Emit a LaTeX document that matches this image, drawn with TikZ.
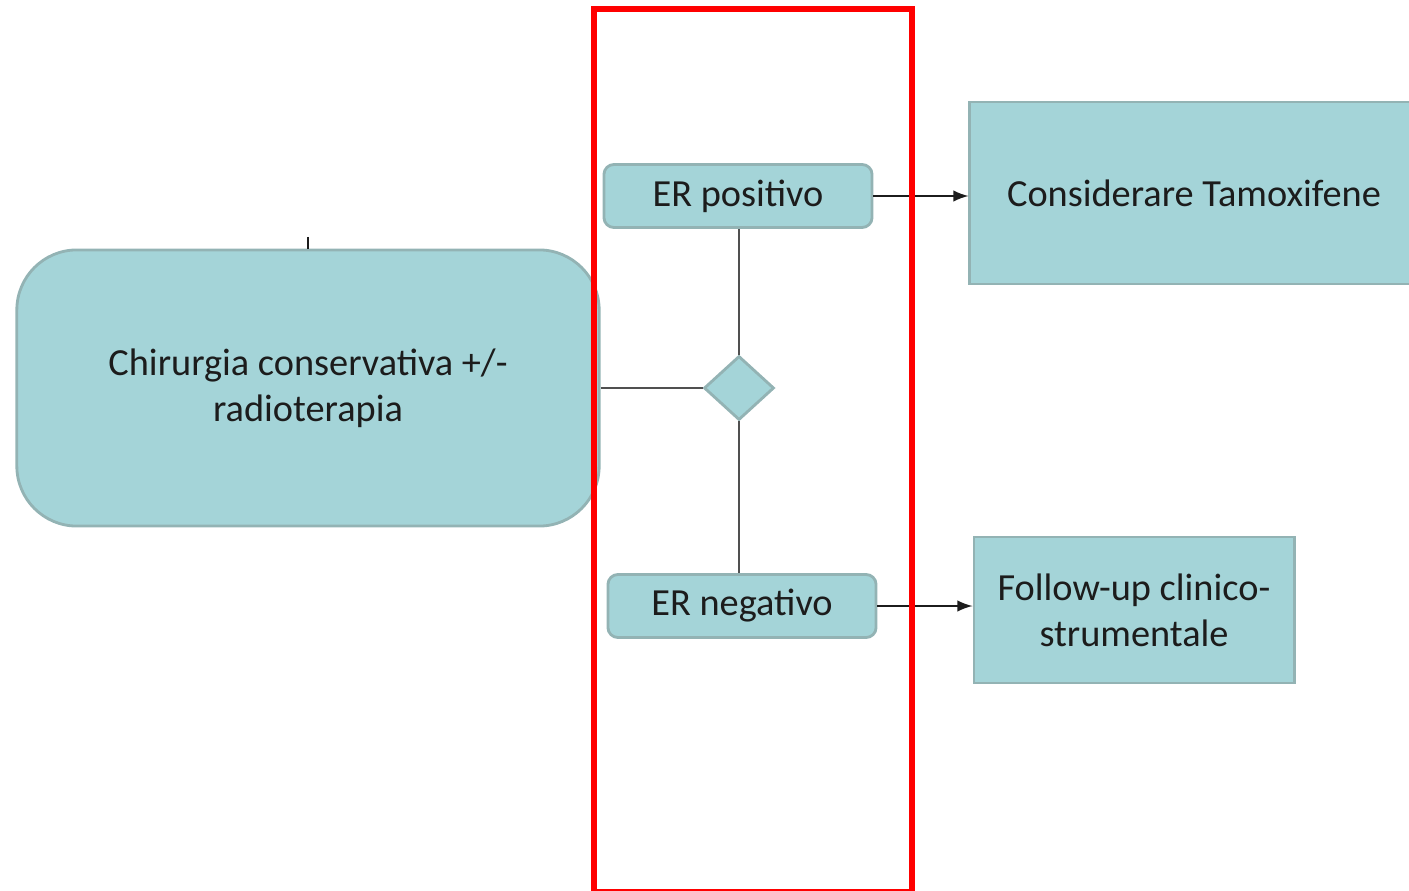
\documentclass[tikz,border=0pt]{standalone}
\usepackage{fontspec}
\setmainfont{Carlito}
\usepackage{xcolor}
\usetikzlibrary{shapes.geometric, arrows}

\definecolor{boxfill}{HTML}{A4D4D8}
\definecolor{boxline}{HTML}{93B3B4}
\definecolor{txt}{HTML}{1C1C1C}
\definecolor{conn}{HTML}{505050}

\tikzset{
  boxstyle/.style={draw=boxline, fill=boxfill, line width=0.8pt, text=txt, align=center, font=\fontsize{10.9}{13.1}\selectfont},
  pill/.style={boxstyle, rounded corners=0.1cm, minimum width=2.68cm, minimum height=0.63cm},
  choice/.style={draw=boxline, fill=boxfill, line width=0.8pt, diamond, minimum width=0.70cm, minimum height=0.64cm, inner sep=0pt},
  link/.style={draw=conn, line width=0.6pt},
  arr/.style={draw=txt, line width=0.5pt, -latex}
}

\begin{document}
\begin{tikzpicture}[x=0.01cm, y=-0.01cm]
        \useasboundingbox (0,0) rectangle (1409,891);

        \node[boxstyle, rounded corners=0.6cm, minimum width=5.82cm, minimum height=2.76cm] (chir) at (308,388) {Chirurgia conservativa +/-\\radioterapia};
        \node[pill] (erpos) at (738,196) {ER positivo};
        \node[pill] (erneg) at (742,606) {ER negativo};
        \node[choice] (dec) at (739,388) {};
        \node[boxstyle, minimum width=4.48cm, minimum height=1.82cm] (tamox) at (1194,193) {Considerare Tamoxifene};
        \node[boxstyle, minimum width=3.20cm, minimum height=1.46cm] (follow) at (1134,610) {Follow-up clinico-\\strumentale};

        \coordinate (tick) at (308,237);
        \draw[txt, line width=0.5pt] (tick) -- (chir.north);

        \draw[link] (chir.east) -- (dec.west);
        \draw[link] (dec.north) -- (dec.north |- erpos.south);
        \draw[link] (dec.south) -- (dec.south |- erneg.north);

        \draw[arr] (erpos.east) -- (erpos.east -| tamox.west);
        \draw[arr] (erneg.east) -- (erneg.east -| follow.west);

        \draw[red, line width=1.7pt] (594,9) rectangle (912,892);
    \end{tikzpicture}
\end{document}
